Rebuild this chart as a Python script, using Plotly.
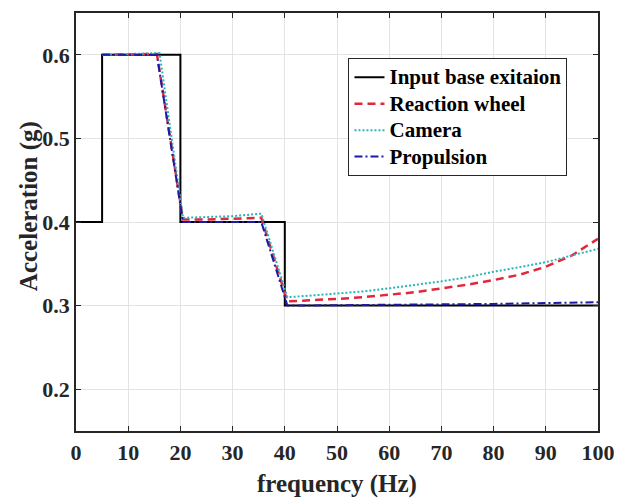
import plotly.graph_objects as go

# ---- data ----
freq_input = [0, 5, 5, 20, 20, 40, 40, 100]
acc_input = [0.4, 0.4, 0.6, 0.6, 0.4, 0.4, 0.3, 0.3]

freq_rw = [5, 15.5, 20.5, 25, 30, 35.5, 40.5, 45, 50, 55, 60, 65, 70, 75, 80, 85, 90, 95, 100]
acc_rw = [0.6, 0.601, 0.403, 0.403, 0.404, 0.405, 0.305, 0.306, 0.308, 0.310, 0.3126,
          0.316, 0.3206, 0.325, 0.3305, 0.337, 0.3465, 0.360, 0.380]

freq_cam = [5, 16, 20.5, 25, 30, 35.5, 40.5, 45, 50, 55, 60, 65, 70, 75, 80, 85, 90, 95, 100]
acc_cam = [0.6, 0.602, 0.405, 0.406, 0.407, 0.41, 0.31, 0.312, 0.3146, 0.317, 0.3206,
           0.3245, 0.329, 0.334, 0.3405, 0.346, 0.352, 0.360, 0.368]

freq_prop = [5, 15.5, 20.5, 35.5, 40.5, 60, 80, 100]
acc_prop = [0.6, 0.6, 0.4, 0.4, 0.3, 0.301, 0.302, 0.304]

series_names = ["Input base exitaion", "Reaction wheel", "Camera", "Propulsion"]

x_ticks = [0, 10, 20, 30, 40, 50, 60, 70, 80, 90, 100]
y_ticks = [0.2, 0.3, 0.4, 0.5, 0.6]

FONT = "Liberation Serif, Times New Roman, serif"


def legend_label(s):
    return f'<span style="font-size:21px">{s}</span>'


fig = go.Figure()
fig.add_trace(go.Scatter(x=freq_input, y=acc_input, mode="lines", name=legend_label(series_names[0]),
                         line=dict(color="#000000", width=2)))
fig.add_trace(go.Scatter(x=freq_rw, y=acc_rw, mode="lines", name=legend_label(series_names[1]),
                         line=dict(color="#e0283c", width=2.5, dash="8px,5px")))
fig.add_trace(go.Scatter(x=freq_cam, y=acc_cam, mode="lines", name=legend_label(series_names[2]),
                         line=dict(color="#2ab4b8", width=2, dash="2px,2px")))
fig.add_trace(go.Scatter(x=freq_prop, y=acc_prop, mode="lines", name=legend_label(series_names[3]),
                         line=dict(color="#1a1aa8", width=2, dash="8px,3px,2px,3px")))

axis_common = dict(
    showline=True, linecolor="#262626", linewidth=1.5, mirror="ticks",
    ticks="inside", ticklen=5, tickcolor="#262626", tickwidth=1,
    showgrid=True, gridcolor="#e3e3e3", gridwidth=1, zeroline=False,
    automargin=False,
    tickfont=dict(family=FONT, size=22, color="#262626", weight="bold"),
)

fig.update_xaxes(range=[0, 100], tickvals=x_ticks, ticktext=[str(v) for v in x_ticks],
                 ticklabelstandoff=1,
                 title=dict(text="frequency (Hz)", standoff=12,
                            font=dict(family=FONT, size=25, color="#262626", weight="bold")),
                 **axis_common)
fig.update_yaxes(range=[0.15, 0.65], tickvals=y_ticks, ticktext=[f"{v:.1f}" for v in y_ticks],
                 **axis_common)

fig.add_annotation(text="Acceleration (g)", xref="paper", yref="paper",
                   x=-0.09, y=0.538, textangle=-90, showarrow=False,
                   xanchor="center", yanchor="middle",
                   font=dict(family=FONT, size=25, color="#262626", weight="bold"))

fig.update_layout(
    width=628, height=498,
    margin=dict(l=76, r=30, t=13, b=67),
    paper_bgcolor="white", plot_bgcolor="white",
    font=dict(family=FONT, color="#000000", weight="bold"),
    legend=dict(x=0.522, y=0.892, xanchor="left", yanchor="top",
                bgcolor="white", bordercolor="#262626", borderwidth=1,
                font=dict(family=FONT, size=18, color="#000000", weight="bold"),
                tracegroupgap=0, itemwidth=30),
    showlegend=True,
)

fig.write_html("out.html")
